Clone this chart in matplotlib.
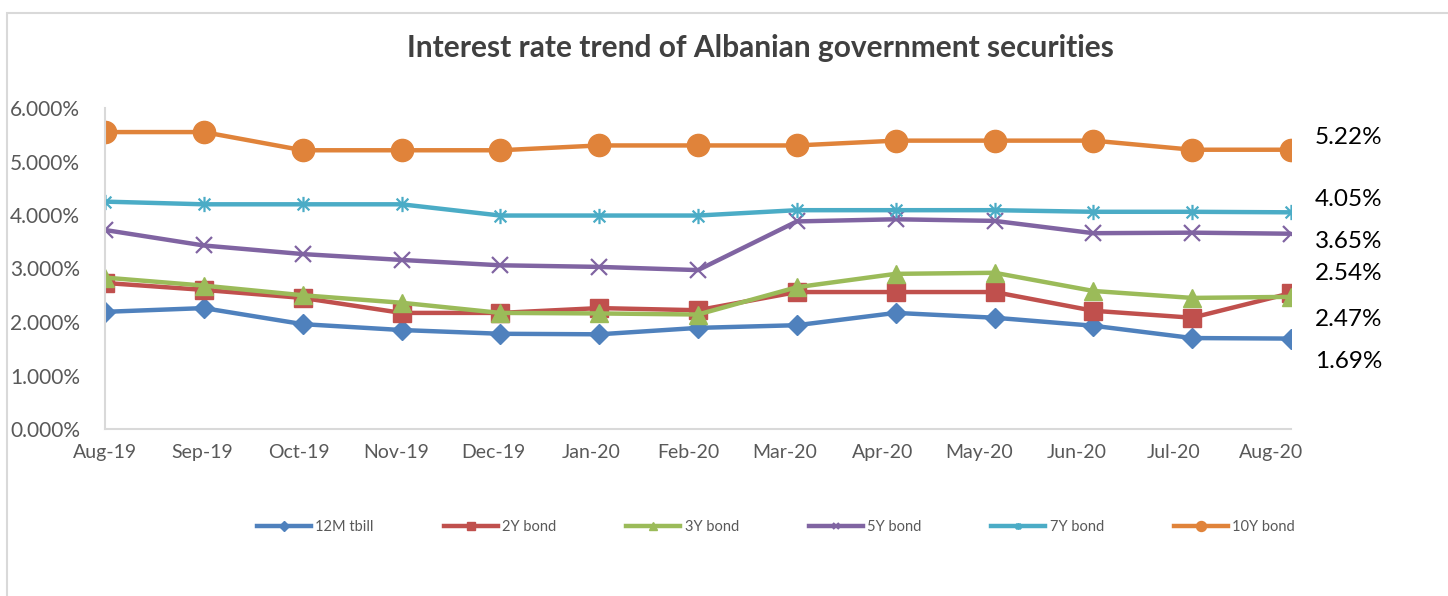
import matplotlib
matplotlib.use("Agg")
import matplotlib.pyplot as plt
import numpy as np
from matplotlib.path import Path
from matplotlib.patches import Rectangle
from matplotlib.ticker import FuncFormatter, MultipleLocator

months = ["Aug-19", "Sep-19", "Oct-19", "Nov-19", "Dec-19", "Jan-20", "Feb-20",
          "Mar-20", "Apr-20", "May-20", "Jun-20", "Jul-20", "Aug-20"]
tbill_12m = [2.19, 2.26, 1.96, 1.85, 1.78, 1.77, 1.89, 1.94, 2.17, 2.08, 1.93, 1.70, 1.69]
bond_2y = [2.73, 2.60, 2.45, 2.17, 2.17, 2.26, 2.22, 2.56, 2.56, 2.56, 2.21, 2.08, 2.54]
bond_3y = [2.83, 2.68, 2.50, 2.36, 2.17, 2.16, 2.14, 2.65, 2.90, 2.92, 2.58, 2.45, 2.47]
bond_5y = [3.72, 3.43, 3.27, 3.16, 3.06, 3.03, 2.97, 3.88, 3.92, 3.89, 3.66, 3.67, 3.65]
bond_7y = [4.25, 4.20, 4.20, 4.20, 3.99, 3.99, 3.99, 4.09, 4.09, 4.09, 4.06, 4.06, 4.05]
bond_10y = [5.55, 5.55, 5.21, 5.21, 5.21, 5.30, 5.30, 5.30, 5.39, 5.39, 5.39, 5.22, 5.22]
series_names = ["12M tbill", "2Y bond", "3Y bond", "5Y bond", "7Y bond", "10Y bond"]
end_labels = ["5.22%", "4.05%", "3.65%", "2.54%", "2.47%", "1.69%"]

plt.rcParams['font.family'] = ['Lato', 'DejaVu Sans']

fig = plt.figure(figsize=(14.48, 5.96), dpi=100)
fig.patches.append(Rectangle((7 / 1448, -0.1), 1.2, (596 - 13) / 596 + 0.1,
                             transform=fig.transFigure, fill=False,
                             edgecolor='#D9D9D9', linewidth=1.5))

ax = fig.add_axes([105 / 1448, 1 - 429 / 596, (1291 - 105) / 1448, (429 - 108) / 596])

star = Path([(-1, -1), (1, 1), (-1, 1), (1, -1), (0, -1.3), (0, 1.3)],
            [Path.MOVETO, Path.LINETO, Path.MOVETO, Path.LINETO, Path.MOVETO, Path.LINETO])

x = np.arange(len(months))
styles = [
    (tbill_12m, '#4F81BD', dict(marker='D', markersize=10.5)),
    (bond_2y, '#C0504D', dict(marker='s', markersize=12.5)),
    (bond_3y, '#9BBB59', dict(marker='^', markersize=13.5)),
    (bond_5y, '#8064A2', dict(marker='x', markersize=11, markeredgewidth=1.6)),
    (bond_7y, '#4BACC6', dict(marker=star, markersize=11, markeredgewidth=1.6)),
    (bond_10y, '#E0833A', dict(marker='o', markersize=16)),
]
handles = []
for (vals, col, mk), name in zip(styles, series_names):
    h, = ax.plot(x, vals, color=col, linewidth=3.2, label=name,
                 markerfacecolor=col, markeredgecolor=col, **mk)
    handles.append(h)

ax.set_xlim(0, 12)
ax.set_ylim(0, 6)
ax.set_xticks(x * 0.983)
ax.set_xticklabels(months)
ax.yaxis.set_major_locator(MultipleLocator(1))
ax.yaxis.set_major_formatter(FuncFormatter(lambda v, p: f"{v:.3f}%"))
for s in ['top', 'right']:
    ax.spines[s].set_visible(False)
for s in ['left', 'bottom']:
    ax.spines[s].set_color('#D9D9D9')
    ax.spines[s].set_linewidth(1.5)
ax.tick_params(axis='both', length=0, colors='#595959')
ax.tick_params(axis='y', pad=18, labelsize=15)
ax.tick_params(axis='x', pad=11, labelsize=14)
for lab in ax.get_xticklabels() + ax.get_yticklabels():
    lab.set_color('#595959')

fig.text(760 / 1448, 1 - 48 / 596, "Interest rate trend of Albanian government securities",
         ha='center', va='center', fontsize=21.5, fontweight='bold', color='#404040')

label_y = [137, 200, 241, 273, 320, 361]
for txt, py in zip(end_labels, label_y):
    fig.text(1315 / 1448, 1 - py / 596, txt, ha='left', va='center', fontsize=17.5, color='black')

leg = fig.legend(handles=handles, labels=series_names, loc='center',
                 bbox_to_anchor=(776 / 1448, 1 - 527 / 596), ncol=6, frameon=False,
                 fontsize=10.5, handlelength=3.7, columnspacing=4.8, markerscale=0.45,
                 handletextpad=0.3)
for t in leg.get_texts():
    t.set_color('#595959')

fig.savefig("out.png", dpi=100)
